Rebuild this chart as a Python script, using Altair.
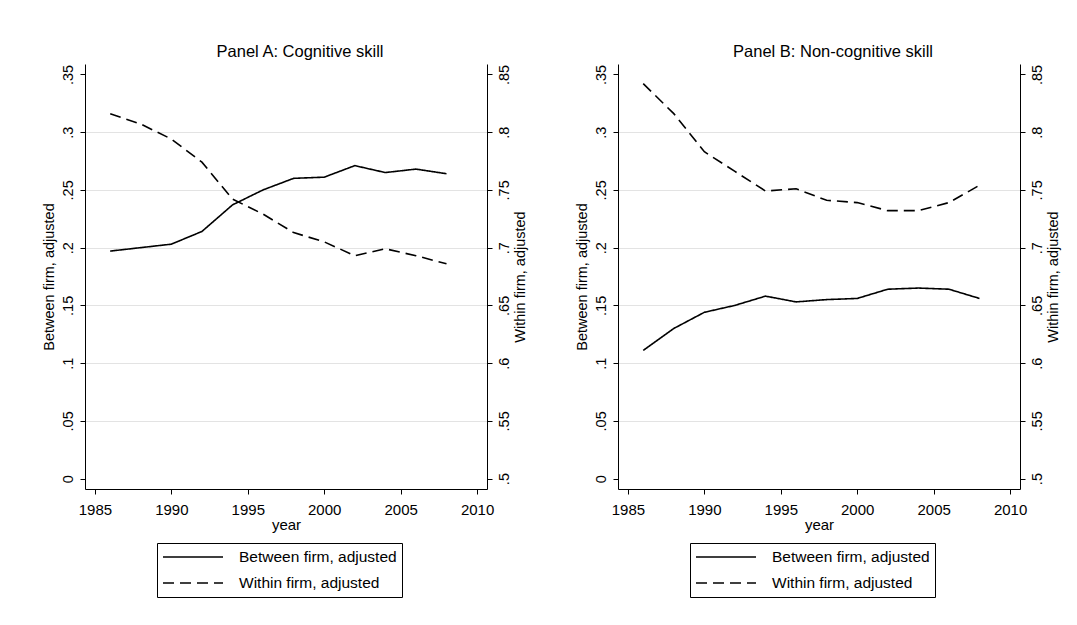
import altair as alt
import pandas as pd

years = [1986, 1988, 1990, 1992, 1994, 1996, 1998, 2000, 2002, 2004, 2006, 2008]

a_between = [0.197, 0.200, 0.203, 0.214, 0.237, 0.250, 0.260, 0.261, 0.271, 0.265, 0.268, 0.264]
a_within = [0.816, 0.807, 0.794, 0.774, 0.742, 0.729, 0.713, 0.705, 0.693, 0.699, 0.693, 0.686]
b_between = [0.111, 0.130, 0.144, 0.150, 0.158, 0.153, 0.155, 0.156, 0.164, 0.165, 0.164, 0.156]
b_within = [0.842, 0.816, 0.783, 0.766, 0.749, 0.751, 0.741, 0.739, 0.732, 0.732, 0.739, 0.754]

series_names = ["Between firm, adjusted", "Within firm, adjusted"]
panel_titles = ["Panel A: Cognitive skill", "Panel B: Non-cognitive skill"]

x_ticks = [1985, 1990, 1995, 2000, 2005, 2010]
left_ticks = [0, 0.05, 0.1, 0.15, 0.2, 0.25, 0.3, 0.35]
right_ticks = [0.5, 0.55, 0.6, 0.65, 0.7, 0.75, 0.8, 0.85]

FONT = "Liberation Sans"
LBL = "datum.value == 0 ? '0' : substring(format(datum.value, '.2~f'), 1)"


def make_df(between, within):
    rows = []
    for y, v in zip(years, between):
        rows.append({"year": y, "value": v, "series": series_names[0]})
    for y, v in zip(years, within):
        rows.append({"year": y, "value": v, "series": series_names[1]})
    return pd.DataFrame(rows)


def panel(df, title):
    legend = alt.Legend(
        orient="none", legendX=72, legendY=479, title=None,
        symbolType="stroke", symbolSize=3600, symbolStrokeWidth=1.5,
        symbolStrokeColor="black", clipHeight=18, rowPadding=8,
        labelFont=FONT, labelFontSize=15.5, labelColor="black", labelOffset=15,
        strokeColor="black", padding=5, direction="vertical",
    )
    x = alt.X(
        "year:Q",
        scale=alt.Scale(domain=[1984.35, 2010.65], nice=False, zero=False),
        axis=alt.Axis(
            values=x_ticks, format="d", title="year", grid=False,
            labelFont=FONT, labelFontSize=15, labelColor="black", labelPadding=8,
            titleFont=FONT, titleFontSize=15, titleFontWeight="normal", titleColor="black",
            titlePadding=0, tickSize=5, tickColor="black", domainColor="black",
            labelFlush=False,
        ),
    )
    dash = alt.StrokeDash(
        "series:N",
        scale=alt.Scale(domain=series_names, range=[[1, 0], [11, 6]]),
        legend=legend,
    )
    base = alt.Chart(df).encode(x=x, strokeDash=dash)
    left = base.transform_filter(alt.datum.series == series_names[0]).mark_line(
        color="black", strokeWidth=1.6
    ).encode(
        y=alt.Y(
            "value:Q",
            scale=alt.Scale(domain=[-0.009, 0.359], nice=False, zero=False),
            axis=alt.Axis(
                orient="left", values=left_ticks, labelExpr=LBL, labelAngle=270,
                title=series_names[0], titleAngle=270,
                labelFont=FONT, labelFontSize=14.5, labelColor="black", labelPadding=5,
                titleFont=FONT, titleFontSize=14.5, titleFontWeight="normal",
                titleColor="black", titlePadding=4,
                tickSize=5, tickColor="black", domainColor="black",
                grid=True,
                gridColor={"condition": {"test": "datum.value < 0.01 || datum.value > 0.34",
                                         "value": "transparent"}, "value": "#e3e3e3"},
                gridWidth=1.2,
            ),
        )
    )
    right = base.transform_filter(alt.datum.series == series_names[1]).mark_line(
        color="black", strokeWidth=1.6
    ).encode(
        y=alt.Y(
            "value:Q",
            scale=alt.Scale(domain=[0.491, 0.859], nice=False, zero=False),
            axis=alt.Axis(
                orient="right", values=right_ticks, labelExpr=LBL, labelAngle=270,
                title=series_names[1], titleAngle=270,
                labelFont=FONT, labelFontSize=14.5, labelColor="black", labelPadding=5,
                titleFont=FONT, titleFontSize=14.5, titleFontWeight="normal",
                titleColor="black", titlePadding=17,
                tickSize=5, tickColor="black", domainColor="black",
                grid=False,
            ),
        )
    )
    return alt.layer(left, right).resolve_scale(y="independent").properties(
        width=402, height=425,
        title=alt.TitleParams(
            title, font=FONT, fontSize=16.5, fontWeight="normal", color="black",
            anchor="middle", dx=14, offset=4,
        ),
    )


pa = panel(make_df(a_between, a_within), panel_titles[0])
pb = panel(make_df(b_between, b_within), panel_titles[1])

chart = alt.hconcat(pa, pb, spacing=46).resolve_scale(
    strokeDash="independent"
).resolve_legend(strokeDash="independent").properties(
    padding={"left": 32, "top": 35, "right": 5, "bottom": 5},
    background="white",
).configure_view(stroke=None)

chart.save("out.html", embed_options={"renderer": "svg", "actions": False})
